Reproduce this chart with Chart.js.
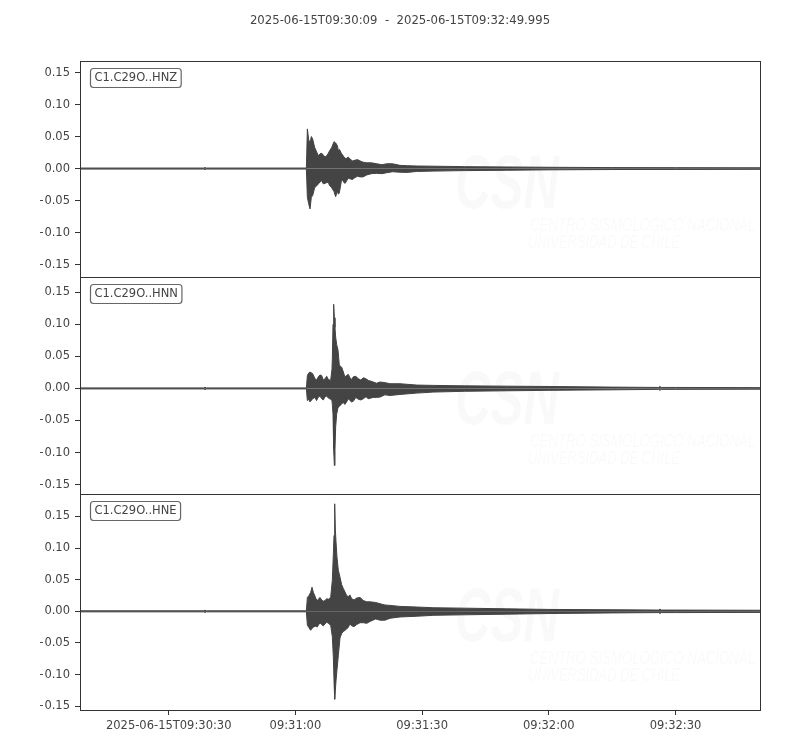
<!DOCTYPE html>
<html>
<head>
<meta charset="utf-8">
<script src="https://cdn.jsdelivr.net/npm/chart.js@4.4.1/dist/chart.umd.min.js"></script>
<style>
    html, body { margin: 0; padding: 0; background: #fff; }
</style>
</head>
<body>
<canvas id="seis" width="800" height="750"></canvas>
<script>
// time in seconds after 2025-06-15T09:30:00, amplitude envelope
const titleText = '2025-06-15T09:30:09  -  2025-06-15T09:32:49.995';
const traceLabels = ['C1.C29O..HNZ', 'C1.C29O..HNN', 'C1.C29O..HNE'];

const hnzTime = [9.0, 38.3, 38.6, 38.9, 62.6, 62.83, 63.14, 63.46, 63.77, 64.09, 64.56, 65.04, 65.43, 65.82, 66.22,
    66.61, 67.01, 67.40, 67.80, 68.03, 68.59, 69.14, 69.53, 69.93, 70.16, 70.40, 70.87, 71.2, 71.50, 71.8,
    72.14, 72.5, 72.92, 73.5, 74.11, 74.7, 75.29, 76.0, 76.87, 78.0, 79.24, 80.5, 81.60, 83.0, 84.76,
    86.5, 88.71, 92.65, 100, 110, 120, 135, 150, 169.995];
const hnzUp = [0.0008, 0.0008, 0.0015, 0.0008, 0.0008, 0.062, 0.045, 0.040, 0.050, 0.046, 0.033, 0.026, 0.020, 0.023, 0.024,
    0.021, 0.018, 0.020, 0.024, 0.027, 0.033, 0.042, 0.040, 0.036, 0.028, 0.030, 0.024, 0.021, 0.018, 0.016,
    0.016, 0.018, 0.015, 0.012, 0.013, 0.014, 0.012, 0.010, 0.009, 0.009, 0.0075, 0.006, 0.0075, 0.0075, 0.005,
    0.0045, 0.004, 0.0037, 0.003, 0.0025, 0.002, 0.0015, 0.0014, 0.0012];
const hnzLow = [-0.0008, -0.0008, -0.0015, -0.0008, -0.0008, -0.045, -0.055, -0.063, -0.045, -0.042, -0.030, -0.027, -0.024, -0.021, -0.019,
    -0.024, -0.023, -0.022, -0.021, -0.026, -0.030, -0.036, -0.044, -0.035, -0.040, -0.038, -0.020, -0.018, -0.022, -0.023,
    -0.019, -0.015, -0.016, -0.017, -0.014, -0.012, -0.013, -0.013, -0.010, -0.008, -0.0075, -0.008, -0.0065, -0.005, -0.0057,
    -0.006, -0.0045, -0.004, -0.0032, -0.0027, -0.002, -0.0015, -0.0014, -0.0012];

const hnnTime = [9.0, 38.3, 38.6, 38.9, 62.6, 62.83, 63.14, 63.46, 64.09, 64.64, 65.0, 65.43, 65.8, 66.22, 66.6,
    67.01, 67.4, 67.80, 68.35, 68.66, 68.74, 68.90, 69.06, 69.22, 69.37, 69.53, 69.77, 70.08, 70.40, 70.95,
    71.35, 71.7, 72.14, 72.5, 72.92, 73.3, 73.71, 74.3, 74.90, 75.5, 76.08, 76.7, 77.26, 78.45, 79.2,
    80.03, 81.2, 82.39, 84.76, 88.71, 92.65, 100, 110, 120, 135, 146.0, 146.3, 146.6, 150, 169.995];
const hnnUp = [0.0008, 0.0008, 0.0018, 0.0008, 0.0008, 0.020, 0.024, 0.0255, 0.023, 0.015, 0.013, 0.018, 0.021, 0.020, 0.013,
    0.015, 0.019, 0.014, 0.0125, 0.030, 0.045, 0.100, 0.131, 0.110, 0.095, 0.080, 0.068, 0.060, 0.036, 0.033,
    0.0255, 0.018, 0.020, 0.022, 0.0167, 0.014, 0.018, 0.019, 0.015, 0.013, 0.0167, 0.015, 0.0125, 0.010, 0.008,
    0.010, 0.009, 0.0073, 0.0073, 0.0052, 0.0047, 0.004, 0.0035, 0.003, 0.002, 0.0015, 0.003, 0.0015, 0.0015, 0.0012];
const hnnLow = [-0.0008, -0.0008, -0.0018, -0.0008, -0.0008, -0.019, -0.017, -0.021, -0.016, -0.014, -0.019, -0.0135, -0.012, -0.016, -0.018,
    -0.013, -0.012, -0.015, -0.017, -0.019, -0.025, -0.040, -0.095, -0.120, -0.095, -0.060, -0.040, -0.030, -0.028, -0.024,
    -0.022, -0.025, -0.021, -0.016, -0.019, -0.021, -0.020, -0.014, -0.017, -0.018, -0.016, -0.013, -0.016, -0.014, -0.014,
    -0.0135, -0.010, -0.011, -0.0094, -0.0073, -0.0057, -0.0045, -0.0037, -0.003, -0.0022, -0.0015, -0.003, -0.0015, -0.0015, -0.0012];

const hneTime = [9.0, 38.3, 38.6, 38.9, 62.6, 62.83, 63.22, 63.61, 63.93, 64.25, 64.88, 65.15, 65.43, 65.8, 66.22,
    66.6, 67.01, 67.4, 67.80, 68.35, 68.74, 68.98, 69.14, 69.30, 69.45, 69.61, 69.85, 70.16, 70.56, 70.95,
    71.35, 72.14, 72.53, 72.9, 73.32, 73.9, 74.50, 75.3, 76.08, 76.9, 77.66, 79.0, 80.03, 81.2, 82.39,
    84.76, 88.71, 92.65, 100, 110, 120, 135, 146.0, 146.3, 146.6, 150, 169.995];
const hneUp = [0.0008, 0.0008, 0.0018, 0.0008, 0.0008, 0.022, 0.025, 0.030, 0.038, 0.030, 0.020, 0.017, 0.019, 0.022, 0.018,
    0.016, 0.017, 0.020, 0.019, 0.022, 0.049, 0.090, 0.120, 0.170, 0.130, 0.110, 0.085, 0.065, 0.054, 0.042,
    0.036, 0.025, 0.023, 0.026, 0.020, 0.018, 0.021, 0.022, 0.017, 0.015, 0.015, 0.014, 0.012, 0.010, 0.0094,
    0.0078, 0.0068, 0.0057, 0.005, 0.004, 0.003, 0.0025, 0.002, 0.0035, 0.002, 0.002, 0.0017];
const hneLow = [-0.0008, -0.0008, -0.0018, -0.0008, -0.0008, -0.022, -0.026, -0.030, -0.027, -0.025, -0.023, -0.025, -0.022, -0.018, -0.021,
    -0.023, -0.020, -0.017, -0.019, -0.022, -0.040, -0.072, -0.110, -0.139, -0.125, -0.110, -0.092, -0.070, -0.042, -0.035,
    -0.032, -0.028, -0.025, -0.020, -0.023, -0.024, -0.021, -0.018, -0.018, -0.019, -0.016, -0.012, -0.014, -0.014, -0.011,
    -0.0089, -0.0078, -0.0063, -0.0055, -0.0045, -0.0035, -0.0025, -0.002, -0.0035, -0.002, -0.002, -0.0017];

const yRanges = [[-0.170, 0.168], [-0.164, 0.173], [-0.156, 0.186]];
const yTickValues = [-0.15, -0.10, -0.05, 0.00, 0.05, 0.10, 0.15];
const yTickLabels = ['\u22120.15', '\u22120.10', '\u22120.05', '0.00', '0.05', '0.10', '0.15'];
const xTickValues = [30, 60, 90, 120, 150];
const xTickLabels = ['2025-06-15T09:30:30', '09:31:00', '09:31:30', '09:32:00', '09:32:30'];

const traceColor = '#444444';
const axisIds = ['yZ', 'yN', 'yE'];
const traces = [
    {time: hnzTime, up: hnzUp, low: hnzLow},
    {time: hnnTime, up: hnnUp, low: hnnLow},
    {time: hneTime, up: hneUp, low: hneLow}
];

Chart.defaults.font.family = '"DejaVu Sans", sans-serif';
Chart.defaults.font.size = 11.5;
Chart.defaults.color = '#444';

function pairs(time, values) {
    return time.map((t, i) => ({x: t, y: values[i]}));
}

let datasets = [];
traces.forEach((tr, k) => {
    [tr.up, tr.low].forEach(vals => {
        datasets.push({
            data: pairs(tr.time, vals),
            yAxisID: axisIds[k],
            borderColor: traceColor,
            backgroundColor: traceColor,
            borderWidth: 1,
            pointRadius: 0,
            fill: 'origin',
            tension: 0
        });
    });
});

function yScale(k) {
    return {
        type: 'linear',
        position: 'left',
        stack: 'traces',
        stackWeight: 1,
        weight: 3 - k,
        min: yRanges[k][0],
        max: yRanges[k][1],
        afterBuildTicks: s => { s.ticks = yTickValues.map(v => ({value: v})); },
        afterFit: s => { s.width = 40; },
        ticks: {
            callback: (v, i) => yTickLabels[i],
            padding: 5
        },
        grid: {drawOnChartArea: false, drawTicks: true, tickLength: 5, color: '#333'},
        border: {display: false}
    };
}

// frames, trace labels and the faint agency watermark
const panelPlugin = {
    id: 'panels',
    beforeDatasetsDraw(chart) {
        let ctx = chart.ctx;
        let area = chart.chartArea;
        const marks = [
            {text: 'CSN', font: 'italic bold 76px', dx: 375, dy: 147, w: 104},
            {text: 'CENTRO SISMOLÓGICO NACIONAL', font: 'italic 19px', dx: 450, dy: 170, w: 225},
            {text: 'UNIVERSIDAD DE CHILE', font: 'italic 19px', dx: 448, dy: 187, w: 152}
        ];
        axisIds.forEach(id => {
            let s = chart.scales[id];
            marks.forEach(m => {
                ctx.save();
                ctx.fillStyle = 'rgba(0,0,0,0.022)';
                ctx.font = m.font + ' "Liberation Sans Narrow", "Liberation Sans"';
                let w = ctx.measureText(m.text).width;
                ctx.translate(area.left + m.dx, s.top + m.dy);
                ctx.scale(m.w / w, 1);
                ctx.fillText(m.text, 0, 0);
                ctx.restore();
            });
        });
    },
    afterDraw(chart) {
        let ctx = chart.ctx;
        let area = chart.chartArea;
        axisIds.forEach((id, k) => {
            let s = chart.scales[id];
            let top = Math.round(s.top), bottom = Math.round(s.bottom);
            ctx.save();
            ctx.strokeStyle = '#333';
            ctx.lineWidth = 1;
            ctx.strokeRect(Math.round(area.left) + 0.5, top + 0.5,
                Math.round(area.right) - Math.round(area.left), bottom - top);

            ctx.font = '11.5px "DejaVu Sans"';
            let tw = ctx.measureText(traceLabels[k]).width;
            let bx = area.left + 10.5, by = top + 7.5;
            ctx.beginPath();
            ctx.roundRect(bx, by, tw + 8, 19, 3);
            ctx.fillStyle = '#fff';
            ctx.fill();
            ctx.strokeStyle = '#666';
            ctx.lineWidth = 1.2;
            ctx.stroke();
            ctx.fillStyle = '#444';
            ctx.textBaseline = 'middle';
            ctx.fillText(traceLabels[k], bx + 4, by + 10);
            ctx.restore();
        });
    }
};

let scales = {
    x: {
        type: 'linear',
        min: 9,
        max: 169.995,
        afterBuildTicks: s => { s.ticks = xTickValues.map(v => ({value: v})); },
        afterFit: s => { s.height = 40; },
        ticks: {
            callback: (v, i) => xTickLabels[i],
            maxRotation: 0,
            autoSkip: false,
            padding: 4
        },
        grid: {drawOnChartArea: false, drawTicks: true, tickLength: 5, color: '#333'},
        border: {display: false}
    }
};
axisIds.forEach((id, k) => { scales[id] = yScale(k); });

new Chart(document.getElementById('seis'), {
    type: 'line',
    data: {datasets: datasets},
    options: {
        responsive: false,
        animation: false,
        devicePixelRatio: 1,
        layout: {padding: {left: 40, right: 40, top: 0, bottom: 0}},
        plugins: {
            legend: {display: false},
            tooltip: {enabled: false},
            title: {
                display: true,
                text: titleText,
                color: '#444',
                font: {size: 11.7, weight: 'normal'},
                padding: {top: 14, bottom: 33}
            }
        },
        scales: scales
    },
    plugins: [panelPlugin]
});
</script>
</body>
</html>
